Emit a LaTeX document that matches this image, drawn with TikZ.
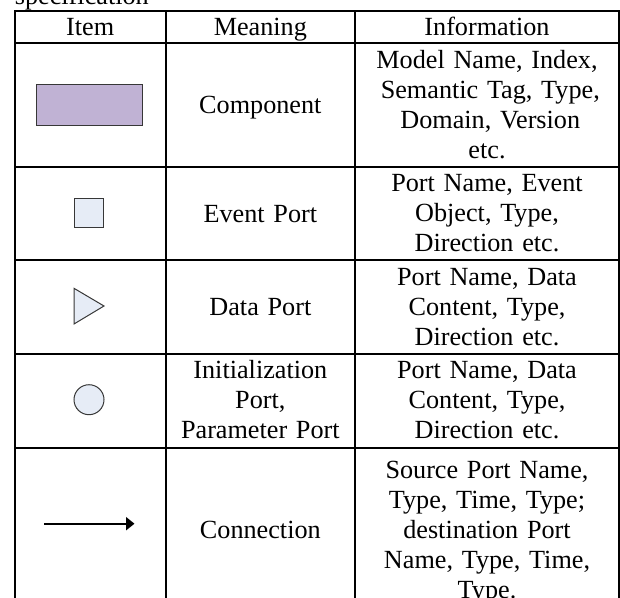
\documentclass[tikz,border=0pt]{standalone}
\usepackage{fontspec}
\setmainfont{Liberation Serif}
\usetikzlibrary{arrows.meta}

\definecolor{compfill}{RGB}{192,178,212}
\definecolor{portfill}{RGB}{230,236,246}
\definecolor{shapeline}{RGB}{55,55,55}

\begin{document}
\begin{tikzpicture}[x=1pt,y=-1pt,
  rule/.style={line width=2pt, black},
  cell/.style={font=\fontsize{26.2}{30}\selectfont, inner sep=0pt, anchor=base, align=center},
  itemcol/.style={cell, text width=148pt},
  meancol/.style={cell, text width=186pt},
  infocol/.style={cell, text width=262pt},
  symbol/.style={draw=shapeline, line width=1pt, inner sep=0pt},
  conn/.style={line width=2pt, -{Triangle[length=8.5pt,width=13pt]}}]

\useasboundingbox (0,0) rectangle (620,597);
\clip (0,0) rectangle (620,597);

% caption fragment above the table
\node[font=\fontsize{26.2}{30}\selectfont, inner sep=0pt, anchor=base west] (cap) at (14.7,5) {specification};

% table rules
\draw[rule] (14.7,11) -- (619,11);
\draw[rule] (14.7,42.7) -- (619,42.7);
\draw[rule] (14.7,167.3) -- (619,167.3);
\draw[rule] (14.7,260.3) -- (619,260.3);
\draw[rule] (14.7,353.7) -- (619,353.7);
\draw[rule] (14.7,447.5) -- (619,447.5);
\draw[rule] (14.7,613) -- (619,613);
\draw[rule] (14.7,10) -- (14.7,620);
\draw[rule] (165.7,10) -- (165.7,620);
\draw[rule] (355,10) -- (355,620);
\draw[rule] (619,10) -- (619,620);

% header row
\node[itemcol] (hItem) at (90.2,35.5) {Item};
\node[meancol] (hMean) at (260.35,35.5) {Meaning};
\node[infocol] (hInfo) at (487,35.5) {Information};

% item symbols
\node[symbol, fill=compfill, minimum width=106pt, minimum height=41.3pt] (comp) at (89.7,104.7) {};
\node[symbol, fill=portfill, minimum size=29.7pt] (evport) at (88.9,213) {};
\draw[symbol, fill=portfill, line join=miter] (74,288.3) -- (104,306) -- (74,324) -- cycle;
\node[symbol, fill=portfill, circle, minimum size=30pt] (initport) at (89,399.7) {};
\coordinate (arrS) at (44,523.7);
\coordinate (arrE) at (134.5,523.7);
\draw[conn] (arrS) -- (arrE);

% meaning column
\node[meancol] (mComp) at (260.35,113.3) {Component};
\node[meancol] (mEvent) at (260.35,222) {Event Port};
\node[meancol] (mData) at (260.35,315.3) {Data Port};
\node[meancol] (mInit) at (260.35,378.9) {Initialization\\Port,\\Parameter Port};
\node[meancol] (mConn) at (260.35,538.7) {Connection};

% information column
\node[infocol] (iComp) at (487,68.7) {Model Name, Index,\\\hspace*{0.25em}Semantic Tag, Type,\\\hspace*{0.25em}Domain, Version\\etc.};
\node[infocol] (iEvent) at (487,191.7) {Port Name, Event\\Object, Type,\\Direction etc.};
\node[infocol] (iData) at (487,285) {Port Name, Data\\Content, Type,\\Direction etc.};
\node[infocol] (iInit) at (487,378.9) {Port Name, Data\\Content, Type,\\Direction etc.};
\node[infocol] (iConn) at (487,478.5) {Source Port Name,\\Type, Time, Type;\\destination Port\\Name, Type, Time,\\Type.};

\end{tikzpicture}
\end{document}
